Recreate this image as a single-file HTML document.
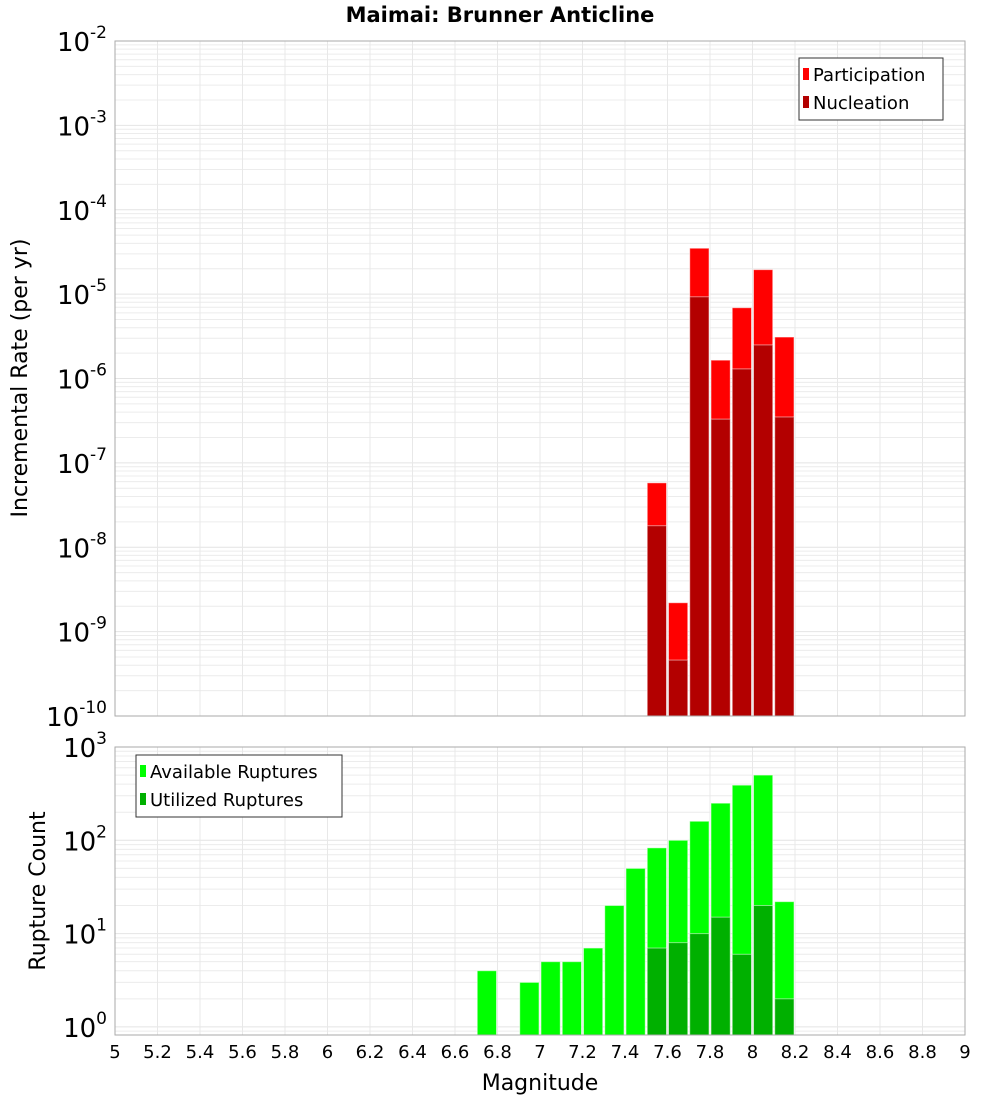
<!DOCTYPE html>
<html><head><meta charset="utf-8"><style>
body{margin:0;background:#fff;}
svg text{font-family:"DejaVu Sans","Liberation Sans",sans-serif;}
</style></head><body>
<svg id="chart" width="1000" height="1100" xmlns="http://www.w3.org/2000/svg">
<rect width="1000" height="1100" fill="#fff"/>
<text x="500" y="22" text-anchor="middle" font-size="21" font-weight="bold">Maimai: Brunner Anticline</text>
<g id="top"></g>
<g id="bot"></g>
<text transform="translate(27,378) rotate(-90)" text-anchor="middle" font-size="22">Incremental Rate (per yr)</text>
<text transform="translate(45,891) rotate(-90)" text-anchor="middle" font-size="22">Rupture Count</text>
<text x="540" y="1090" text-anchor="middle" font-size="22">Magnitude</text>
</svg>
<script>
const rateMags=[7.55,7.65,7.75,7.85,7.95,8.05,8.15];
const participation=[5.8e-8,2.2e-9,3.5e-5,1.65e-6,6.9e-6,1.95e-5,3.1e-6];
const nucleation=[1.8e-8,4.6e-10,9.3e-6,3.3e-7,1.3e-6,2.5e-6,3.5e-7];
const countMags=[6.75,6.95,7.05,7.15,7.25,7.35,7.45,7.55,7.65,7.75,7.85,7.95,8.05,8.15];
const available=[4,3,5,5,7,20,50,83,100,160,250,390,500,22];
const utilMags=[7.55,7.65,7.75,7.85,7.95,8.05,8.15];
const utilized=[7,8,10,15,6,20,2];
const xTicks=["5","5.2","5.4","5.6","5.8","6","6.2","6.4","6.6","6.8","7","7.2","7.4","7.6","7.8","8","8.2","8.4","8.6","8.8","9"];

const NS="http://www.w3.org/2000/svg";
const X0=115,X1=965;
const xs=m=>X0+(m-5)/4*(X1-X0);
function el(p,t,a){const e=document.createElementNS(NS,t);for(const k in a)e.setAttribute(k,a[k]);p.appendChild(e);return e;}
function panel(g,top,bottom,yTop,decPx,eMin,eMax,name){
  const ys=v=>top+(yTop-Math.log10(v))*decPx;
  // grid
  for(let e=eMin;e<=eMax;e++){for(let k=1;k<10;k++){const y=ys(k*Math.pow(10,e));if(y<top-0.5||y>bottom+0.5)continue;
    const l=el(g,'line',{x1:X0,x2:X1,y1:y,y2:y,stroke:k==1?'#e4e4e4':'#ececec','stroke-width':1});
    
    }}
  xTicks.forEach(t=>{const x=xs(+t);const l=el(g,'line',{x1:x,x2:x,y1:top,y2:bottom,stroke:'#e8e8e8'});
    
    });
  // y labels
  for(let e=eMin;e<=eMax;e++){const y=ys(Math.pow(10,e));if(y<top-2||y>bottom+2)continue;
    const t=el(g,'text',{x:107,y:y+10,'text-anchor':'end','font-size':26});
    
    
    t.textContent='10';const s=el(t,'tspan',{dy:-13,'font-size':17});s.textContent=String(e);}
  return ys;
}
function bars(g,ys,bottom,mags,vals,color,name){
  mags.forEach((m,i)=>{const x=xs(m-0.05)+1,w=xs(m+0.05)-xs(m-0.05)-2;const y=Math.max(ys(vals[i]),0);
    const r=el(g,'rect',{x:x,y:y,width:w,height:bottom-y,fill:color,stroke:'#ffffff','stroke-opacity':0.5,'stroke-width':1});
    
    });
}
function frame(g,top,bottom,name){const r=el(g,'rect',{x:X0,y:top,width:X1-X0,height:bottom-top,fill:'none',stroke:'#aaaaaa'});
  
  }
function legend(g,x,y,w,items,name){const r=el(g,'rect',{x:x,y:y,width:w,height:items.length*28+6,fill:'#fff',stroke:'#333'});
  
  
  items.forEach((it,i)=>{const s=el(g,'rect',{x:x+4,y:y+10+i*28,width:6,height:12,fill:it[1]});
    
    
    const t=el(g,'text',{x:x+14,y:y+23+i*28,'font-size':18});
    
    
    t.textContent=it[0];});}

const gt=document.getElementById('top');
const ysT=panel(gt,41,716,-2,84.375,-10,-2,'rate');
bars(gt,ysT,716,rateMags,participation,'#ff0000','participation');
bars(gt,ysT,716,rateMags,nucleation,'#b30000','nucleation');
frame(gt,41,716,'rate-plot');
legend(gt,799,58,144,[['Participation','#ff0000'],['Nucleation','#b30000']],'rate-legend');

const gb=document.getElementById('bot');
const ysB=panel(gb,747,1035,3,93.3,-1,3,'count');
bars(gb,ysB,1035,countMags,available,'#00ff00','available');
bars(gb,ysB,1035,utilMags,utilized,'#00b000','utilized');
frame(gb,747,1035,'count-plot');
legend(gb,136,755,206,[['Available Ruptures','#00ff00'],['Utilized Ruptures','#00b000']],'count-legend');

const sv=document.getElementById('chart');
xTicks.forEach(t=>{const x=xs(+t);const l=el(sv,'text',{x:x,y:1058,'text-anchor':'middle','font-size':18});
  
  
  l.textContent=t;});
</script>
</body></html>
